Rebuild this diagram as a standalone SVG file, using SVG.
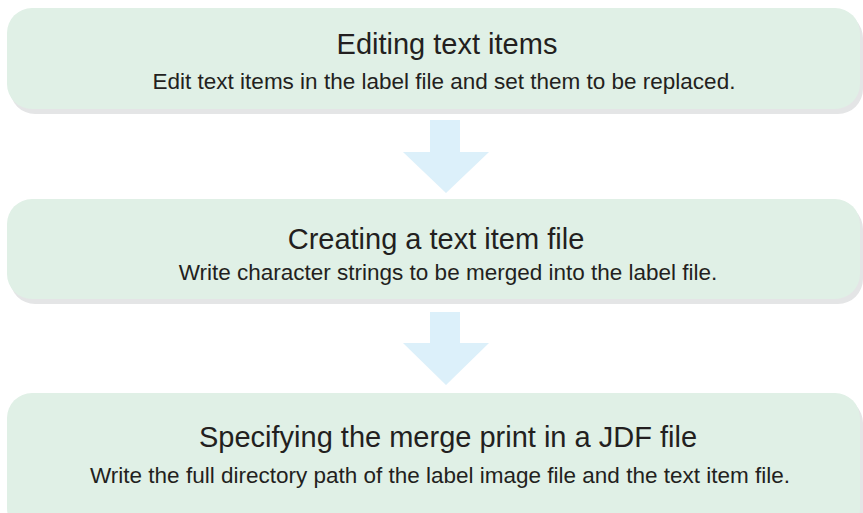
<svg xmlns="http://www.w3.org/2000/svg" width="863" height="513" viewBox="0 0 863 513">
<style>
.box{fill:#e0f0e6}
.shadow{fill:#e4e5e6}
.arrow{fill:#dcf0fa}
.t{font-family:"Liberation Sans",Arial,sans-serif;fill:#231f20;text-anchor:middle}
.title{font-size:29px}
.sub{font-size:22.5px}
</style>
<rect width="863" height="513" fill="#ffffff"/>
<g id="connectors">
<polygon class="arrow" points="430,120 460,120 460,152 489,152 446,193 403,152 430,152"/>
<polygon class="arrow" points="430,312 460,312 460,343 489,343 446,385 403,343 430,343"/>
</g>
<g id="node1">
<rect class="shadow" x="10" y="13" width="853" height="101" rx="25"/>
<rect class="box" x="7" y="8" width="853" height="101" rx="25"/>
<text class="t title" x="447" y="54">Editing text items</text>
<text class="t sub" x="444" y="89">Edit text items in the label file and set them to be replaced.</text>
</g>
<g id="node2">
<rect class="shadow" x="10" y="204" width="853" height="100" rx="25"/>
<rect class="box" x="7" y="199" width="853" height="100" rx="25"/>
<text class="t title" x="436" y="249">Creating a text item file</text>
<text class="t sub" x="448" y="280">Write character strings to be merged into the label file.</text>
</g>
<g id="node3">
<rect class="shadow" x="10" y="398" width="853" height="140" rx="25"/>
<rect class="box" x="7" y="393" width="853" height="140" rx="25"/>
<text class="t title" x="448" y="447">Specifying the merge print in a JDF file</text>
<text class="t sub" x="440" y="483">Write the full directory path of the label image file and the text item file.</text>
</g>
</svg>
